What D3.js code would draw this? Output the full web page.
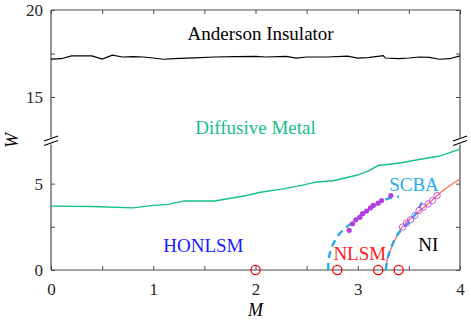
<!DOCTYPE html>
<html>
  <head>
    <meta charset="utf-8">
    <title>Phase diagram W vs M</title>
    <script src="https://d3js.org/d3.v7.min.js"></script>
    <style>
      body { margin: 0; background: #fff; }
      .axis line { stroke: #4d4d4d; }
      .axis text { fill: #262626; }
    </style>
  </head>
  <body>
    <svg id="chart" width="471" height="322"></svg>
    <script>
      // data
      var andersonM = [0, 0.1, 0.2, 0.3, 0.4, 0.5, 0.6, 0.7, 0.8, 0.9, 1.0, 1.1, 1.2, 1.4, 1.6, 1.8, 2.0, 2.1, 2.3, 2.4, 2.5, 2.7, 2.9, 3.0, 3.1, 3.25, 3.27, 3.4, 3.5, 3.6, 3.7, 3.8, 3.9, 4.0];
      var andersonW = [17.18, 17.2, 17.36, 17.36, 17.36, 17.18, 17.4, 17.3, 17.32, 17.3, 17.24, 17.17, 17.2, 17.25, 17.3, 17.32, 17.33, 17.3, 17.33, 17.24, 17.3, 17.3, 17.35, 17.24, 17.26, 17.38, 17.24, 17.2, 17.24, 17.3, 17.28, 17.17, 17.2, 17.36];
      var metalM = [0, 0.4, 0.8, 1.0, 1.15, 1.3, 1.6, 1.9, 2.05, 2.27, 2.45, 2.6, 2.76, 3.0, 3.11, 3.2, 3.41, 3.6, 3.8, 4.0];
      var metalW = [3.7, 3.68, 3.6, 3.74, 3.8, 4.0, 4.0, 4.3, 4.5, 4.7, 4.9, 5.1, 5.17, 5.5, 5.75, 6.05, 6.2, 6.4, 6.6, 7.0];
      var niM = [3.279, 3.287, 3.307, 3.33, 3.363, 3.412, 3.477, 3.575, 3.705, 3.835, 4.0];
      var niW = [0, 0.57, 0.96, 1.3, 1.72, 2.3, 2.78, 3.26, 3.93, 4.6, 5.27];
      var scbaLeftM = [2.711, 2.717, 2.747, 2.796, 2.854, 2.923, 3.021, 3.118, 3.216, 3.314, 3.402];
      var scbaLeftW = [0, 0.69, 1.32, 1.9, 2.3, 2.64, 3.1, 3.53, 3.91, 4.17, 4.25];
      var scbaRightM = [3.275, 3.284, 3.304, 3.333, 3.372, 3.431, 3.509, 3.568, 3.627];
      var scbaRightW = [0, 0.46, 0.92, 1.38, 1.9, 2.36, 2.82, 3.28, 3.91];
      var dotM = [2.916, 2.949, 2.981, 3.021, 3.047, 3.086, 3.125, 3.151, 3.199, 3.233, 3.324];
      var dotW = [2.3, 2.68, 2.91, 3.06, 3.26, 3.41, 3.6, 3.74, 3.87, 4.02, 4.31];
      var ringM = [3.438, 3.477, 3.516, 3.558, 3.6, 3.639, 3.688, 3.731, 3.776];
      var ringW = [2.49, 2.72, 2.91, 3.16, 3.45, 3.64, 3.83, 4.02, 4.31];
      var criticalM = [2, 2.8, 3.2, 3.4];
      var xTicks = [0, 0.5, 1, 1.5, 2, 2.5, 3, 3.5, 4];
      var yTicksLow = [0, 2.5, 5];
      var yTicksHigh = [15, 17.5, 20];
      var labels = [
        ["Anderson Insulator", 2.05, 18.3, "#000000"],
        ["Diffusive Metal", 2.0, 12.9, "#14c08a"],
        ["SCBA", 3.55, 4.56, "#2aaaf0"],
        ["HONLSM", 1.49, 1.04, "#1a1aff"],
        ["NLSM", 3.02, 0.58, "#ff1a1a"],
        ["NI", 3.69, 1.1, "#000000"]
      ];

      var plotLeft = 51, plotRight = 460, plotTop = 10, plotBottom = 270, breakY = 140.5;
      var serif = "'Liberation Serif', 'Times New Roman', serif";
      var svg = d3.select("#chart");
      var x = d3.scaleLinear().domain([0, 4]).range([plotLeft, plotRight]);
      var yLow = d3.scaleLinear().domain([0, 7.5]).range([plotBottom, breakY]);
      var yHigh = d3.scaleLinear().domain([12.5, 20]).range([breakY, plotTop]);
      function y(w) { return w < 10 ? yLow(w) : yHigh(w); }
      function pairs(ms, ws) { return ms.map(function(m, i) { return [m, ws[i]]; }); }

      var line = d3.line()
        .x(function(d) { return x(d[0]); })
        .y(function(d) { return y(d[1]); });

      // axes
      function tickFmt(d) { return d % 1 === 0 ? d : ""; }
      function tickFmtY(d) { return d % 5 === 0 ? d : ""; }
      var axes = svg.append("g").classed("axis", true);
      axes.append("g").attr("transform", "translate(0," + plotBottom + ")")
        .call(d3.axisBottom(x).tickValues(xTicks).tickSize(-4).tickPadding(13).tickFormat(tickFmt));
      axes.append("g").attr("transform", "translate(0," + plotTop + ")")
        .call(d3.axisTop(x).tickValues(xTicks).tickSize(-4).tickFormat(""));
      axes.append("g").attr("transform", "translate(" + plotLeft + ",0)")
        .call(d3.axisLeft(yLow).tickValues(yTicksLow).tickSize(-4).tickPadding(8).tickFormat(tickFmtY));
      axes.append("g").attr("transform", "translate(" + plotLeft + ",0)")
        .call(d3.axisLeft(yHigh).tickValues(yTicksHigh).tickSize(-4).tickPadding(8).tickFormat(tickFmtY));
      axes.append("g").attr("transform", "translate(" + plotRight + ",0)")
        .call(d3.axisRight(yLow).tickValues(yTicksLow).tickSize(-4).tickFormat(""));
      axes.append("g").attr("transform", "translate(" + plotRight + ",0)")
        .call(d3.axisRight(yHigh).tickValues(yTicksHigh).tickSize(-4).tickFormat(""));
      axes.selectAll(".domain").remove();
      axes.selectAll("text").style("font-family", serif).style("font-size", "17px");

      // frame with gaps at the break
      var frame = svg.append("g").attr("stroke", "#4d4d4d").attr("stroke-width", 1.2);
      frame.append("line").attr("x1", plotLeft).attr("x2", plotRight).attr("y1", plotBottom).attr("y2", plotBottom);
      frame.append("line").attr("x1", plotLeft).attr("x2", plotRight).attr("y1", plotTop).attr("y2", plotTop);
      [plotLeft, plotRight].forEach(function(px) {
        frame.append("line").attr("x1", px).attr("x2", px).attr("y1", plotBottom).attr("y2", breakY + 4);
        frame.append("line").attr("x1", px).attr("x2", px).attr("y1", breakY - 3).attr("y2", plotTop);
        [-2, 2.5].forEach(function(off) {
          svg.append("line")
            .attr("x1", px - 7).attr("y1", breakY + off + 2.5)
            .attr("x2", px + 7).attr("y2", breakY + off - 2.5)
            .attr("stroke", "#000").attr("stroke-width", 1.1);
        });
      });

      // phase boundaries
      svg.append("path").attr("d", line(pairs(andersonM, andersonW)))
        .attr("fill", "none").attr("stroke", "#000").attr("stroke-width", 1.2);
      svg.append("path").attr("d", line(pairs(metalM, metalW)))
        .attr("fill", "none").attr("stroke", "#14c08a").attr("stroke-width", 1.4);
      svg.append("path").attr("d", line.curve(d3.curveMonotoneX)(pairs(niM, niW)))
        .attr("fill", "none").attr("stroke", "#ff6a55").attr("stroke-width", 1.3);
      [pairs(scbaLeftM, scbaLeftW), pairs(scbaRightM, scbaRightW)].forEach(function(p) {
        svg.append("path").attr("d", line.curve(d3.curveCatmullRom)(p))
          .attr("fill", "none").attr("stroke", "#2aaaf0").attr("stroke-width", 2.4)
          .attr("stroke-dasharray", "7,5");
      });

      svg.append("g").selectAll("circle").data(pairs(dotM, dotW)).join("circle")
        .attr("cx", function(d) { return x(d[0]); })
        .attr("cy", function(d) { return y(d[1]); })
        .attr("r", 2.6).attr("fill", "#b53ee0");
      svg.append("g").selectAll("circle").data(pairs(ringM, ringW)).join("circle")
        .attr("cx", function(d) { return x(d[0]); })
        .attr("cy", function(d) { return y(d[1]); })
        .attr("r", 3.2).attr("fill", "none").attr("stroke", "#c04ce8").attr("stroke-width", 0.9);
      svg.append("g").selectAll("circle").data(criticalM).join("circle")
        .attr("cx", function(d) { return x(d); })
        .attr("cy", y(0))
        .attr("r", 4.6).attr("fill", "none").attr("stroke", "#ff0000").attr("stroke-width", 1.3);

      // region labels
      svg.append("g").selectAll("text").data(labels).join("text")
        .attr("x", function(d) { return x(d[1]); })
        .attr("y", function(d) { return y(d[2]); })
        .attr("text-anchor", "middle")
        .style("font-family", serif)
        .style("font-size", "19px")
        .attr("fill", function(d) { return d[3]; })
        .text(function(d) { return d[0]; });

      // axis titles
      svg.append("text").attr("x", x(2)).attr("y", 316)
        .attr("text-anchor", "middle")
        .style("font-family", serif).style("font-size", "18px").style("font-style", "italic")
        .text("M");
      svg.append("text").attr("transform", "translate(18," + breakY + ") rotate(-90)")
        .attr("text-anchor", "middle")
        .style("font-family", serif).style("font-size", "18px").style("font-style", "italic")
        .text("W");
    </script>
  </body>
</html>
